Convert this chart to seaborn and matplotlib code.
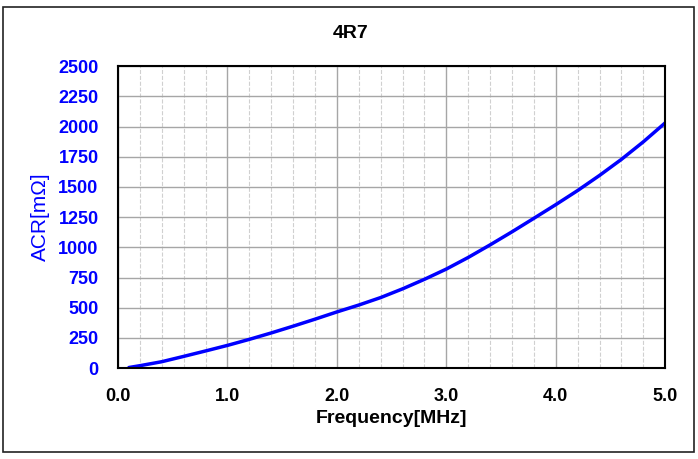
import matplotlib
matplotlib.use("Agg")
import matplotlib.pyplot as plt
import seaborn as sns
import pandas as pd
from matplotlib.ticker import MultipleLocator
from matplotlib.patches import Rectangle

# ACR curve
freq = [0.1, 0.2, 0.4, 0.6, 0.8, 1.0, 1.2, 1.4, 1.6, 1.8, 2.0, 2.2, 2.4, 2.6,
        2.8, 3.0, 3.2, 3.4, 3.6, 3.8, 4.0, 4.2, 4.4, 4.6, 4.8, 5.0]
acr = [5, 20, 53, 97, 142, 188, 238, 291, 347, 405, 465, 522, 584, 656,
       735, 820, 916, 1020, 1128, 1240, 1353, 1470, 1595, 1728, 1873, 2030]
x_ticks = [0, 1, 2, 3, 4, 5]
y_ticks = [0, 250, 500, 750, 1000, 1250, 1500, 1750, 2000, 2250, 2500]

df = pd.DataFrame({"Frequency": freq, "ACR": acr})

sns.set_style("white")
plt.rcParams['font.family'] = ['Liberation Sans', 'DejaVu Sans']
plt.rcParams['text.color'] = 'black'

fig = plt.figure(figsize=(6.98, 4.59), dpi=100)
ax = fig.add_axes([0.169, 0.198, 0.784, 0.658])

sns.lineplot(data=df, x="Frequency", y="ACR", color="#0000ff", linewidth=2.5, ax=ax)

ax.set_xlim(0, 5)
ax.set_ylim(0, 2500)
ax.set_xticks(x_ticks)
ax.set_xticklabels([f"{v:.1f}" for v in x_ticks])
ax.set_yticks(y_ticks)
ax.xaxis.set_minor_locator(MultipleLocator(0.2))

ax.grid(which="major", color="#a6a6a6", linewidth=1.0, linestyle="-")
ax.grid(which="minor", axis="x", color="#d0d0d0", linewidth=0.8, linestyle="--")
ax.set_axisbelow(True)

for s in ax.spines.values():
    s.set_color("black")
    s.set_linewidth(1.5)

ax.tick_params(axis="x", which="both", length=0, pad=14, labelsize=13, labelcolor="black")
ax.tick_params(axis="y", which="both", length=0, pad=14, labelsize=13, labelcolor="#0000ff")
for lbl in ax.get_xticklabels() + ax.get_yticklabels():
    lbl.set_fontweight("bold")

ax.set_xlabel("Frequency[MHz]", fontsize=14, fontweight="bold", color="black", labelpad=4)
ax.set_ylabel("ACR[mΩ]", fontsize=15, color="#0000ff", labelpad=6)

fig.text(0.502, 0.928, "4R7", ha="center", va="center", fontsize=14,
         fontweight="bold", color="black")

# outer frame around the chart
fig.patches.append(Rectangle((0.004, 0.015), 0.99, 0.97, transform=fig.transFigure,
                             fill=False, edgecolor="#222222", linewidth=1.2))

fig.savefig("out.png", dpi=100)
